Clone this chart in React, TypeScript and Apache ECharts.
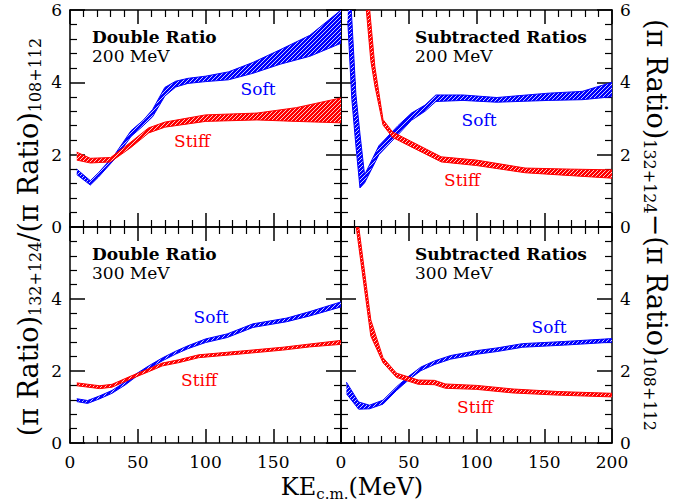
import React, { useEffect, useRef } from "react";
import * as echarts from "echarts";

// ---- data: kinetic energy (MeV) and lower / upper edges of each band ----
const dr200SoftKE = [5, 15, 21, 33, 45, 54, 61, 70, 78, 87, 100, 117, 135, 155, 177, 200];
const dr200SoftLo = [1.45, 1.16, 1.38, 1.88, 2.5, 2.8, 3.05, 3.62, 3.87, 3.97, 4.02, 4.07, 4.25, 4.5, 4.72, 5.08];
const dr200SoftHi = [1.6, 1.28, 1.5, 2.0, 2.66, 2.95, 3.25, 3.86, 4.03, 4.11, 4.17, 4.29, 4.55, 4.9, 5.3, 6.0];

const dr200StiffKE = [5, 15, 30, 45, 58, 70, 100, 138, 167, 200];
const dr200StiffLo = [1.85, 1.77, 1.8, 2.2, 2.6, 2.76, 2.92, 2.96, 2.92, 2.88];
const dr200StiffHi = [2.07, 1.9, 1.92, 2.35, 2.74, 2.9, 3.1, 3.15, 3.3, 3.57];

const sr200SoftKE = [5, 8, 11, 14, 17.4, 28, 42, 52, 62, 70, 90, 115, 153, 178, 200];
const sr200SoftLo = [5.7, 3.53, 2.25, 1.08, 1.22, 2.0, 2.55, 2.95, 3.2, 3.47, 3.5, 3.45, 3.5, 3.52, 3.6];
const sr200SoftHi = [7.8, 5.73, 3.67, 2.57, 1.44, 2.25, 2.8, 3.15, 3.37, 3.65, 3.65, 3.58, 3.7, 3.75, 4.0];

const sr200StiffKE = [17, 22, 25, 31, 38, 50, 74, 100, 136, 170, 200];
const sr200StiffLo = [6.71, 4.6, 3.9, 2.82, 2.48, 2.25, 1.8, 1.7, 1.5, 1.42, 1.35];
const sr200StiffHi = [7.76, 5.66, 4.43, 2.97, 2.63, 2.4, 1.94, 1.85, 1.63, 1.6, 1.58];

const dr300SoftKE = [5, 13, 22, 31, 41, 48, 58, 68, 78, 87, 100, 116, 135, 160, 177, 200];
const dr300SoftLo = [1.15, 1.1, 1.23, 1.38, 1.62, 1.82, 2.06, 2.28, 2.47, 2.62, 2.79, 2.93, 3.21, 3.37, 3.53, 3.78];
const dr300SoftHi = [1.23, 1.18, 1.31, 1.46, 1.7, 1.9, 2.14, 2.36, 2.55, 2.7, 2.89, 3.03, 3.31, 3.47, 3.65, 3.92];

const dr300StiffKE = [5, 22, 31, 45, 58, 68, 80, 95, 128, 157, 177, 200];
const dr300StiffLo = [1.59, 1.51, 1.55, 1.78, 1.98, 2.14, 2.23, 2.37, 2.48, 2.58, 2.67, 2.74];
const dr300StiffHi = [1.67, 1.59, 1.63, 1.86, 2.06, 2.22, 2.31, 2.45, 2.56, 2.66, 2.75, 2.85];

const sr300SoftKE = [4, 13, 21, 31, 41, 49.5, 59, 69, 81, 101, 115, 134, 165, 200];
const sr300SoftLo = [1.37, 0.94, 0.95, 1.08, 1.46, 1.74, 2.01, 2.18, 2.33, 2.47, 2.54, 2.66, 2.72, 2.8];
const sr300SoftHi = [1.69, 1.14, 1.05, 1.19, 1.56, 1.84, 2.11, 2.28, 2.43, 2.57, 2.64, 2.76, 2.82, 2.9];

const sr300StiffKE = [8, 12, 22, 31, 41, 57, 69, 77, 100, 127, 160, 200];
const sr300StiffLo = [7.02, 5.78, 2.97, 2.23, 1.82, 1.63, 1.62, 1.52, 1.49, 1.39, 1.33, 1.28];
const sr300StiffHi = [7.48, 6.32, 3.42, 2.37, 1.94, 1.75, 1.74, 1.64, 1.6, 1.5, 1.43, 1.38];

// axis ranges and ticks
const keMin = 0;
const keMax = 200;
const keStep = 50;
const ratioMin = 0;
const ratioMax = 6;
const ratioStep = 2;

const panelTitles = ["Double Ratio", "Subtracted Ratios", "Double Ratio", "Subtracted Ratios"];
const panelEnergies = ["200 MeV", "200 MeV", "300 MeV", "300 MeV"];

const BLUE = "#0000ff";
const RED = "#ff0000";
const SERIF = "'DejaVu Serif', serif";

// panel frames in pixels: [left, top, width, height]
const PANELS = [
  [70, 10, 271, 217],
  [341, 10, 271, 217],
  [70, 227, 271, 216],
  [341, 227, 271, 216],
];

function hatch(color: string) {
  const c = document.createElement("canvas");
  c.width = 4;
  c.height = 4;
  const g = c.getContext("2d")!;
  g.fillStyle = color;
  g.fillRect(0, 0, 4, 4);
  g.fillStyle = "rgba(255,255,255,0.8)";
  for (let i = 0; i < 4; i++) g.fillRect(i, 3 - i, 1, 1);
  return { image: c, repeat: "repeat" };
}

// one custom series per band: filled polygon between the lower and upper edges
function bandSeries(panel: number, ke: number[], lo: number[], hi: number[], color: string) {
  const fill = hatch(color);
  return {
    type: "custom",
    xAxisIndex: panel * 2,
    yAxisIndex: panel * 2,
    clip: true,
    silent: true,
    dimensions: ["ke", "lo", "hi"],
    encode: { x: 0, y: [1, 2] },
    data: ke.map((k, i) => [k, lo[i], hi[i]]),
    renderItem: (params: any, api: any) => {
      if (params.dataIndexInside !== 0) return null;
      const n = params.dataInsideLength ?? ke.length;
      const upper: number[][] = [];
      const lower: number[][] = [];
      for (let j = 0; j < n; j++) {
        const x = api.value(0, j);
        lower.push(api.coord([x, api.value(1, j)]));
        upper.push(api.coord([x, api.value(2, j)]));
      }
      const outline = upper.concat(lower.slice().reverse());
      return {
        type: "group",
        children: [
          { type: "polygon", shape: { points: outline }, style: { fill, stroke: null } },
          { type: "polyline", shape: { points: upper }, style: { fill: null, stroke: color, lineWidth: 1 } },
          { type: "polyline", shape: { points: lower }, style: { fill: null, stroke: color, lineWidth: 1 } },
        ],
      };
    },
  };
}

const tickLine = { color: "#000", width: 1.5 };
const labelFont = { fontFamily: SERIF, fontSize: 17, color: "#000" };

function xAxes(panel: number) {
  const bottomRow = panel >= 2;
  const leftCol = panel % 2 === 0;
  const base = {
    type: "value",
    gridIndex: panel,
    min: keMin,
    max: keMax,
    interval: keStep,
    axisLine: { show: true, onZero: false, lineStyle: tickLine },
    axisTick: { show: true, inside: true, length: 14, lineStyle: tickLine },
    minorTick: { show: true, splitNumber: 5, length: 7, lineStyle: { color: "#000", width: 1.2 } },
    splitLine: { show: false },
    minorSplitLine: { show: false },
  };
  return [
    {
      ...base,
      position: "bottom",
      axisLabel: {
        show: bottomRow,
        margin: 10,
        showMaxLabel: !leftCol,
        ...labelFont,
      },
    },
    { ...base, position: "top", axisLabel: { show: false } },
  ];
}

function yAxes(panel: number) {
  const leftCol = panel % 2 === 0;
  const topRow = panel < 2;
  const base = {
    type: "value",
    gridIndex: panel,
    min: ratioMin,
    max: ratioMax,
    interval: ratioStep,
    axisLine: { show: true, onZero: false, lineStyle: tickLine },
    axisTick: { show: true, inside: true, length: 15, lineStyle: tickLine },
    minorTick: { show: true, splitNumber: 5, length: 7, lineStyle: { color: "#000", width: 1.2 } },
    splitLine: { show: false },
    minorSplitLine: { show: false },
  };
  const label = { margin: 8, showMaxLabel: topRow, ...labelFont };
  return [
    { ...base, position: "left", axisLabel: { show: leftCol, ...label } },
    { ...base, position: "right", axisLabel: { show: !leftCol, ...label } },
  ];
}

function panelText(panel: number) {
  const [left, top] = PANELS[panel];
  const tx = panel % 2 === 0 ? left + 22 : left + 74;
  return [
    {
      type: "text",
      x: tx,
      y: top + 27,
      style: {
        text: panelTitles[panel],
        font: `bold 17px ${SERIF}`,
        fill: "#000",
        align: "left",
        verticalAlign: "middle",
      },
    },
    {
      type: "text",
      x: tx,
      y: top + 46,
      style: {
        text: panelEnergies[panel],
        font: `17px ${SERIF}`,
        fill: "#000",
        align: "left",
        verticalAlign: "middle",
      },
    },
  ];
}

const curveLabels: [string, number, number, string][] = [
  ["Soft", 258, 89, BLUE],
  ["Stiff", 192, 141, RED],
  ["Soft", 479, 120, BLUE],
  ["Stiff", 462, 180, RED],
  ["Soft", 211, 317, BLUE],
  ["Stiff", 199, 380, RED],
  ["Soft", 549, 327, BLUE],
  ["Stiff", 475, 407, RED],
];

export default function App() {
  const ref = useRef<HTMLDivElement>(null);

  useEffect(() => {
    if (!ref.current) return;
    const chart = echarts.init(ref.current, undefined, { renderer: "svg" });

    const grids = PANELS.map(([left, top, width, height]) => ({
      left,
      top,
      width,
      height,
      containLabel: false,
    }));

    const series = [
      bandSeries(0, dr200SoftKE, dr200SoftLo, dr200SoftHi, BLUE),
      bandSeries(0, dr200StiffKE, dr200StiffLo, dr200StiffHi, RED),
      bandSeries(1, sr200SoftKE, sr200SoftLo, sr200SoftHi, BLUE),
      bandSeries(1, sr200StiffKE, sr200StiffLo, sr200StiffHi, RED),
      bandSeries(2, dr300SoftKE, dr300SoftLo, dr300SoftHi, BLUE),
      bandSeries(2, dr300StiffKE, dr300StiffLo, dr300StiffHi, RED),
      bandSeries(3, sr300SoftKE, sr300SoftLo, sr300SoftHi, BLUE),
      bandSeries(3, sr300StiffKE, sr300StiffLo, sr300StiffHi, RED),
    ];

    const graphic: any[] = [];
    for (let p = 0; p < 4; p++) graphic.push(...panelText(p));
    curveLabels.forEach(([text, x, y, color]) =>
      graphic.push({
        type: "text",
        x,
        y,
        style: {
          text,
          font: `17px ${SERIF}`,
          fill: color,
          align: "center",
          verticalAlign: "middle",
        },
      })
    );

    const main = { fontSize: 27, fontFamily: SERIF, fill: "#000", lineHeight: 30 };
    const sub = { fontSize: 16, fontFamily: SERIF, fill: "#000", lineHeight: 12, verticalAlign: "bottom" };

    // y titles on both sides
    graphic.push({
      type: "text",
      x: 28,
      y: 237,
      rotation: Math.PI / 2,
      style: {
        text: "{m|(π Ratio)}{s|132+124}{m|/(π Ratio)}{s|108+112}",
        rich: { m: main, s: sub },
        align: "center",
        verticalAlign: "middle",
      },
    });
    graphic.push({
      type: "text",
      x: 656,
      y: 225,
      rotation: -Math.PI / 2,
      style: {
        text: "{m|(π Ratio)}{s|132+124}{m|−(π Ratio)}{s|108+112}",
        rich: { m: main, s: sub },
        align: "center",
        verticalAlign: "middle",
      },
    });
    // x title
    graphic.push({
      type: "text",
      x: 352,
      y: 487,
      style: {
        text: "{m|KE}{s|c.m.}{m|(MeV)}",
        rich: {
          m: { fontSize: 24, fontFamily: SERIF, fill: "#000", lineHeight: 28 },
          s: { fontSize: 15, fontFamily: SERIF, fill: "#000", lineHeight: 10, verticalAlign: "bottom" },
        },
        align: "center",
        verticalAlign: "middle",
      },
    });

    chart.setOption({
      animation: false,
      backgroundColor: "#fff",
      grid: grids,
      xAxis: [0, 1, 2, 3].flatMap((p) => xAxes(p)),
      yAxis: [0, 1, 2, 3].flatMap((p) => yAxes(p)),
      series,
      graphic,
    });

    return () => chart.dispose();
  }, []);

  return (
    <div
      ref={ref}
      style={{ position: "absolute", left: 0, top: 0, width: 691, height: 503, background: "#fff" }}
    />
  );
}
